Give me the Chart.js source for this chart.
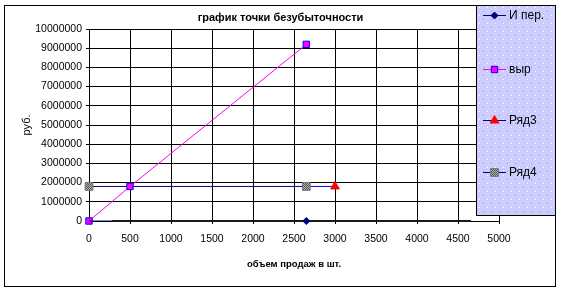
<!DOCTYPE html>
<html>
<head>
<meta charset="utf-8">
<script src="https://cdn.jsdelivr.net/npm/chart.js@4/dist/chart.umd.min.js"></script>
<style>
  html, body { margin: 0; padding: 0; background: #fff; }
  #wrap { width: 561px; height: 293px; }
</style>
</head>
<body>
<div id="wrap"><canvas id="myChart" width="561" height="293"></canvas></div>
<script>
// data
const xTickValues = [0, 500, 1000, 1500, 2000, 2500, 3000, 3500, 4000, 4500, 5000];
const yTickValues = [0, 1000000, 2000000, 3000000, 4000000, 5000000, 6000000, 7000000, 8000000, 9000000, 10000000];

const seriesNames = ['И пер.', 'выр', 'Ряд3', 'Ряд4'];

const fixedX = [0, 280, 2650, 4660];
const fixedY = [0, 0, 0, 0];

const revenueX = [0, 500, 2650];
const revenueY = [0, 1800000, 9200000];

const row3X = [2650, 3000];
const row3Y = [1800000, 1800000];

const row4X = [0, 2650];
const row4Y = [1800000, 1800000];

const chartTitle = 'график точки безубыточности';
const xTitle = 'объем продаж в шт.';
const yTitle = 'руб.';

function pts(xs, ys) {
    return xs.map((x, i) => ({ x: x, y: ys[i] }));
}

// grey dithered fill for the Ряд4 marker
function greyPattern() {
    const c = document.createElement('canvas');
    c.width = 2; c.height = 2;
    const g = c.getContext('2d');
    g.fillStyle = '#b0b0b0'; g.fillRect(0, 0, 2, 2);
    g.fillStyle = '#555555'; g.fillRect(0, 0, 1, 1); g.fillRect(1, 1, 1, 1);
    return g.createPattern(c, 'repeat');
}
const grey = greyPattern();

const FONT = "'Liberation Sans', Arial, sans-serif";
Chart.defaults.font.family = FONT;
Chart.defaults.color = '#000';

// white background, outer frame and the title (centred on the whole frame, like Excel)
const framePlugin = {
    id: 'frame',
    beforeDraw(chart) {
        const ctx = chart.ctx;
        ctx.save();
        ctx.fillStyle = '#fff';
        ctx.fillRect(0, 0, chart.width, chart.height);
        ctx.restore();
    },
    afterDraw(chart) {
        const ctx = chart.ctx;
        ctx.save();
        ctx.strokeStyle = '#000';
        ctx.lineWidth = 1;
        ctx.strokeRect(4.5, 5.5, 551, 281);
        ctx.fillStyle = '#000';
        ctx.font = 'bold 11px ' + FONT;
        ctx.textAlign = 'center';
        ctx.textBaseline = 'middle';
        ctx.fillText(chartTitle, 280.5, 17.5);
        ctx.restore();
    }
};

// Excel-like legend box on the right, over the plot
const boxLegend = {
    id: 'boxLegend',
    afterDraw(chart) {
        const ctx = chart.ctx;
        const L = 476, T = 5, W = 79, H = 210;
        ctx.save();
        ctx.fillStyle = '#ccccff';
        ctx.fillRect(L, T, W, H);
        for (let y = T + 2; y < T + H; y += 8) {
            for (let x = L + 3; x < L + W; x += 8) {
                ctx.fillStyle = '#ffffff';
                ctx.fillRect(x, y, 1, 1);
                ctx.fillStyle = '#9999cc';
                if (y + 4 < T + H && x + 4 < L + W) ctx.fillRect(x + 4, y + 4, 1, 1);
            }
        }
        ctx.strokeStyle = '#000';
        ctx.lineWidth = 1;
        ctx.strokeRect(L + 0.5, T + 0.5, W, H);

        const rows = [15, 69, 120, 172];
        chart.data.datasets.forEach((ds, i) => {
            const y = rows[i];
            ctx.strokeStyle = ds.legendLine || ds.borderColor;
            ctx.lineWidth = 1;
            ctx.beginPath();
            ctx.moveTo(483, y + 0.5);
            ctx.lineTo(506, y + 0.5);
            ctx.stroke();
            ctx.fillStyle = ds.pointBackgroundColor;
            ctx.strokeStyle = ds.pointBorderColor;
            ctx.lineWidth = ds.pointBorderWidth || 1;
            Chart.helpers.drawPoint(ctx, {
                pointStyle: ds.pointStyle,
                radius: ds.legendRadius,
                borderWidth: ds.pointBorderWidth || 1,
                rotation: 0
            }, 494.5, y + 0.5);
            ctx.fillStyle = '#000';
            ctx.font = '12px ' + FONT;
            ctx.textAlign = 'left';
            ctx.textBaseline = 'middle';
            ctx.fillText(seriesNames[i], 509, y + 1);
        });
        ctx.restore();
    }
};

const config = {
    type: 'scatter',
    data: {
        datasets: [
            {
                label: seriesNames[0],
                data: pts(fixedX, fixedY),
                showLine: true,
                clip: false,
                borderColor: '#000080',
                borderWidth: 1,
                segment: {
                    borderColor: c => c.p0DataIndex === 0 ? '#000080' : '#1a1a1a',
                    borderWidth: c => c.p0DataIndex === 0 ? 1 : 2
                },
                pointStyle: 'rectRot',
                pointRadius: [0, 0, 3.5, 0],
                legendRadius: 3.5,
                pointBackgroundColor: '#000080',
                pointBorderColor: '#000080',
                pointBorderWidth: 1,
                order: 0
            },
            {
                label: seriesNames[1],
                data: pts(revenueX, revenueY),
                showLine: true,
                clip: false,
                borderColor: '#ff00ff',
                borderWidth: 1,
                pointStyle: 'rect',
                pointRadius: 4.5,
                legendRadius: 4.5,
                pointBackgroundColor: '#ff00ff',
                pointBorderColor: '#0000ff',
                pointBorderWidth: 1,
                order: 0
            },
            {
                label: seriesNames[2],
                data: pts(row3X, row3Y),
                showLine: true,
                clip: false,
                borderColor: '#0000ff',
                legendLine: '#000080',
                borderWidth: 1,
                pointStyle: 'triangle',
                pointRadius: [0, 5],
                legendRadius: 5,
                pointBackgroundColor: '#ff0000',
                pointBorderColor: '#ff0000',
                pointBorderWidth: 1,
                order: 1
            },
            {
                label: seriesNames[3],
                data: pts(row4X, row4Y),
                showLine: true,
                clip: false,
                borderColor: '#000080',
                borderWidth: 1,
                pointStyle: 'rect',
                pointRadius: 5.5,
                legendRadius: 5.5,
                pointBackgroundColor: grey,
                pointBorderColor: '#777777',
                pointBorderWidth: 1,
                order: 0
            }
        ]
    },
    options: {
        responsive: false,
        animation: false,
        events: [],
        layout: { padding: { left: 5, right: 62, top: 29, bottom: 0 } },
        plugins: {
            legend: { display: false },
            tooltip: { enabled: false },
            title: { display: false }
        },
        scales: {
            x: {
                type: 'linear',
                min: xTickValues[0],
                max: xTickValues[xTickValues.length - 1],
                afterBuildTicks: s => { s.ticks = xTickValues.map(v => ({ value: v })); },
                afterFit: s => { s.height = 72; },
                border: { color: '#000', width: 1 },
                grid: { color: '#000', lineWidth: 1, tickLength: 3, drawTicks: true },
                ticks: { font: { size: 10.5 }, padding: 9, maxRotation: 0, autoSkip: false, callback: v => String(v) },
                title: { display: true, text: xTitle, font: { size: 9.5, weight: 'bold' }, padding: { top: 0, bottom: 23 } }
            },
            y: {
                type: 'linear',
                min: yTickValues[0],
                max: yTickValues[yTickValues.length - 1],
                afterBuildTicks: s => { s.ticks = yTickValues.map(v => ({ value: v })); },
                afterFit: s => { s.width = 84; },
                border: { color: '#000', width: 1 },
                grid: { color: '#000', lineWidth: 1, tickLength: 3, drawTicks: true },
                ticks: { font: { size: 10.5 }, padding: 4, autoSkip: false, callback: v => String(v) },
                title: { display: true, text: yTitle, font: { size: 11 }, padding: { top: 15, bottom: 0 } }
            }
        }
    },
    plugins: [framePlugin, boxLegend]
};

const myChart = new Chart(document.getElementById('myChart'), config);
</script>
</body>
</html>
